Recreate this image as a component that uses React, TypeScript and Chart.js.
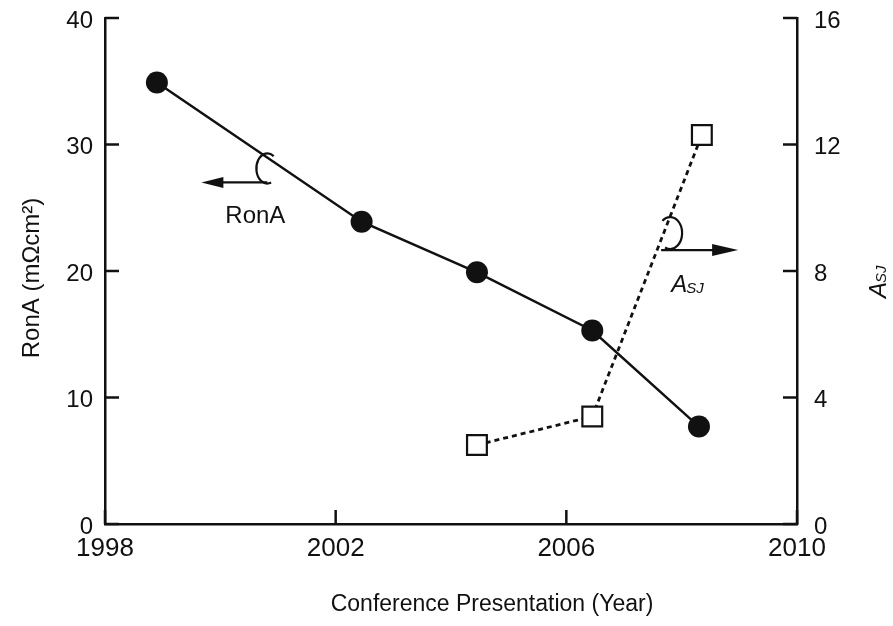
import React, { useEffect, useRef } from "react";
import { Chart, registerables } from "chart.js";

Chart.register(...registerables);

// Data
const ronaYears = [1998.9, 2002.45, 2004.45, 2006.45, 2008.3];
const ronaValues = [34.9, 23.9, 19.9, 15.3, 7.7];
const asjYears = [2004.45, 2006.45, 2008.35];
const asjValues = [2.5, 3.4, 12.3];

const xTicks = [1998, 2002, 2006, 2010];
const leftTicks = [0, 10, 20, 30, 40];
const rightTicks = [0, 4, 8, 12, 16];

const xTitle = "Conference Presentation (Year)";
const leftTitle = "RonA (m\u03A9cm\u00B2)";
const ronaNoteLabel = "RonA";
const asjMain = "A";
const asjSub = "SJ";

// annotation anchors in data coordinates
const ronaNote = { x: 2000.85, y: 27.0 };
const asjNote = { x: 2007.8, y: 9.2 };

const INK = "#111";
const FONT = "'Liberation Sans', Arial, Helvetica, sans-serif";

const decorPlugin = {
  id: "decor",
  afterDraw(chart: any) {
    const ctx = chart.ctx as CanvasRenderingContext2D;
    const xs = chart.scales.x;
    const ys = chart.scales.y;
    const y1 = chart.scales.y1;
    const area = chart.chartArea;
    ctx.save();
    ctx.strokeStyle = INK;
    ctx.fillStyle = INK;
    ctx.lineWidth = 2.5;
    ctx.lineCap = "butt";
    const TL = 14;
    // inward ticks
    xTicks.forEach((v) => {
      const px = xs.getPixelForValue(v);
      ctx.beginPath();
      ctx.moveTo(px, area.bottom);
      ctx.lineTo(px, area.bottom - TL);
      ctx.stroke();
    });
    leftTicks.forEach((v) => {
      const py = ys.getPixelForValue(v);
      ctx.beginPath();
      ctx.moveTo(area.left, py);
      ctx.lineTo(area.left + TL, py);
      ctx.stroke();
    });
    rightTicks.forEach((v) => {
      const py = y1.getPixelForValue(v);
      ctx.beginPath();
      ctx.moveTo(area.right, py);
      ctx.lineTo(area.right - TL, py);
      ctx.stroke();
    });

    // x title
    ctx.font = `23px ${FONT}`;
    ctx.textAlign = "center";
    ctx.textBaseline = "alphabetic";
    ctx.fillText(xTitle, 492, 611);

    // left title
    ctx.save();
    ctx.translate(39, 278);
    ctx.rotate(-Math.PI / 2);
    ctx.font = `24px ${FONT}`;
    ctx.textAlign = "center";
    ctx.fillText(leftTitle, 0, 0);
    ctx.restore();

    // right title A_SJ
    ctx.save();
    ctx.translate(886, 298);
    ctx.rotate(-Math.PI / 2);
    ctx.textAlign = "left";
    ctx.font = `italic 24px ${FONT}`;
    ctx.fillText(asjMain, 0, 0);
    const aw = ctx.measureText(asjMain).width;
    ctx.font = `italic 15px ${FONT}`;
    ctx.fillText(asjSub, aw - 1, 0);
    ctx.restore();

    // RonA annotation
    {
      const px = xs.getPixelForValue(ronaNote.x);
      const py = ys.getPixelForValue(ronaNote.y);
      ctx.lineWidth = 2.2;
      ctx.beginPath();
      ctx.moveTo(px - 2, py);
      ctx.lineTo(px - 50, py);
      ctx.stroke();
      ctx.beginPath();
      ctx.moveTo(px - 68, py);
      ctx.lineTo(px - 46, py - 5.5);
      ctx.lineTo(px - 46, py + 5.5);
      ctx.closePath();
      ctx.fill();
      ctx.beginPath();
      ctx.ellipse(px - 2, py - 14, 11, 15, 0, (-55 * Math.PI) / 180, (70 * Math.PI) / 180, true);
      ctx.stroke();
      ctx.font = `24px ${FONT}`;
      ctx.textAlign = "center";
      ctx.fillText(ronaNoteLabel, px - 14, py + 41);
    }

    // ASJ annotation
    {
      const cx = xs.getPixelForValue(asjNote.x);
      const cy = y1.getPixelForValue(asjNote.y);
      ctx.lineWidth = 2.2;
      ctx.beginPath();
      ctx.ellipse(cx, cy, 12, 16, 0, (-130 * Math.PI) / 180, (115 * Math.PI) / 180, false);
      ctx.stroke();
      const ay = cy + 17;
      ctx.beginPath();
      ctx.moveTo(cx - 9, ay);
      ctx.lineTo(cx + 46, ay);
      ctx.stroke();
      ctx.beginPath();
      ctx.moveTo(cx + 68, ay);
      ctx.lineTo(cx + 42, ay - 6);
      ctx.lineTo(cx + 42, ay + 6);
      ctx.closePath();
      ctx.fill();
      ctx.textAlign = "left";
      ctx.font = `italic 24px ${FONT}`;
      ctx.fillText(asjMain, cx + 1, cy + 59);
      const w = ctx.measureText(asjMain).width;
      ctx.font = `italic 15px ${FONT}`;
      ctx.fillText(asjSub, cx + 1 + w - 1, cy + 60);
    }
    ctx.restore();
  },
};

export default function App() {
  const ref = useRef<HTMLCanvasElement | null>(null);
  useEffect(() => {
    if (!ref.current) return;
    const chart = new Chart(ref.current, {
      type: "scatter",
      data: {
        datasets: [
          {
            label: "RonA",
            data: ronaYears.map((x, i) => ({ x, y: ronaValues[i] })),
            yAxisID: "y",
            showLine: true,
            borderColor: INK,
            borderWidth: 2.5,
            backgroundColor: INK,
            pointStyle: "circle",
            pointRadius: 11,
            pointBorderWidth: 0,
            pointBackgroundColor: INK,
          },
          {
            label: "ASJ",
            data: asjYears.map((x, i) => ({ x, y: asjValues[i] })),
            yAxisID: "y1",
            showLine: true,
            borderColor: INK,
            borderWidth: 2.8,
            borderDash: [5, 4],
            backgroundColor: "#fff",
            pointStyle: "rect",
            pointRadius: 14,
            pointBorderWidth: 2.2,
            pointBorderColor: INK,
            pointBackgroundColor: "#fff",
          },
        ],
      },
      options: {
        animation: false,
        responsive: true,
        maintainAspectRatio: false,
        layout: { padding: { top: 18, left: 0, right: 0, bottom: 0 } },
        plugins: {
          legend: { display: false },
          tooltip: { enabled: false },
        },
        scales: {
          x: {
            type: "linear",
            min: 1998,
            max: 2010,
            grid: { display: false, drawTicks: false },
            border: { display: true, color: INK, width: 2.5 },
            afterFit: (s: any) => {
              s.height = 102;
              s.paddingLeft = 0;
              s.paddingRight = 0;
            },
            afterBuildTicks: (s: any) => {
              s.ticks = xTicks.map((v) => ({ value: v }));
            },
            ticks: {
              padding: 9,
              color: INK,
              font: { family: FONT, size: 26 },
              callback: (v: any) => String(v),
              maxRotation: 0,
              autoSkip: false,
            },
          },
          y: {
            type: "linear",
            position: "left",
            min: 0,
            max: 40,
            grid: { display: false, drawTicks: false },
            border: { display: true, color: INK, width: 2.5 },
            afterFit: (s: any) => {
              s.width = 105;
              s.paddingTop = 0;
              s.paddingBottom = 0;
            },
            afterBuildTicks: (s: any) => {
              s.ticks = leftTicks.map((v) => ({ value: v }));
            },
            ticks: {
              padding: 12,
              labelOffset: 3,
              color: INK,
              font: { family: FONT, size: 24 },
              callback: (v: any) => String(v),
            },
          },
          y1: {
            type: "linear",
            position: "right",
            min: 0,
            max: 16,
            grid: { display: false, drawTicks: false },
            border: { display: true, color: INK, width: 2.5 },
            afterFit: (s: any) => {
              s.width = 96;
              s.paddingTop = 0;
              s.paddingBottom = 0;
            },
            afterBuildTicks: (s: any) => {
              s.ticks = rightTicks.map((v) => ({ value: v }));
            },
            ticks: {
              padding: 17,
              labelOffset: 3,
              color: INK,
              font: { family: FONT, size: 24 },
              callback: (v: any) => String(v),
            },
          },
        },
      },
      plugins: [decorPlugin],
    });
    return () => chart.destroy();
  }, []);
  return (
    <div style={{ position: "absolute", left: 0, top: 0, width: 893, height: 626, background: "#fff" }}>
      <canvas ref={ref} />
    </div>
  );
}
